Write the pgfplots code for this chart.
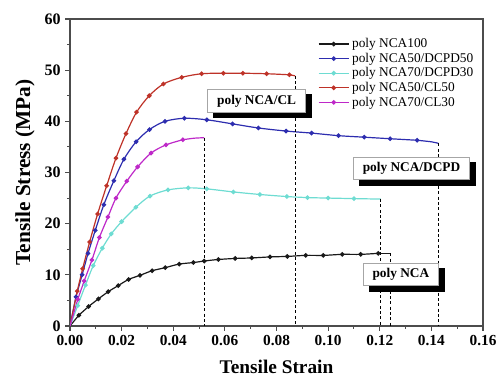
\documentclass[border=0pt]{standalone}
\usepackage{fontspec}
\setmainfont{Liberation Serif}
\usepackage{pgfplots}
\pgfplotsset{compat=1.18}
\definecolor{cBlack}{RGB}{25,25,25}
\definecolor{cBlue}{RGB}{45,45,175}
\definecolor{cCyan}{RGB}{110,220,210}
\definecolor{cRed}{RGB}{190,50,40}
\definecolor{cMag}{RGB}{190,40,200}
\tikzset{lblbase/.style={line width=0.6pt, font=\fontsize{10}{11}\selectfont\bfseries, inner xsep=7pt, inner ysep=4pt},
  lbl/.style={lblbase, draw=black!35, fill=white},
  lblsh/.style={lblbase, draw=black, fill=black}}
\begin{document}
\begin{tikzpicture}
\path[use as bounding box] (-52.5pt,-41.25pt) rectangle (322.5pt,244.5pt);
\begin{axis}[
  at={(0pt,0pt)}, anchor=south west,
  scale only axis, width=309.75pt, height=230.25pt,
  xmin=0, xmax=0.16, ymin=0, ymax=60,
  xtick={0,0.02,0.04,0.06,0.08,0.1,0.12,0.14,0.16},
  ytick={0,10,20,30,40,50,60},
  minor x tick num=1, minor y tick num=1,
  tick align=outside, tick pos=left,
  major tick length=3.5pt, minor tick length=2pt,
  axis line style={draw=black!70, line width=0.9pt},
  every tick/.style={black!70, line width=0.8pt},
  scaled x ticks=false,
  /pgf/number format/assume math mode=true,
  xticklabel style={font=\fontsize{11.5}{12}\selectfont\bfseries, /pgf/number format/fixed, /pgf/number format/fixed zerofill, /pgf/number format/precision=2},
  yticklabel style={font=\fontsize{12}{13}\selectfont\bfseries},
  xlabel={Tensile Strain}, ylabel={Tensile Stress (MPa)},
  xlabel style={font=\fontsize{14.5}{16}\selectfont\bfseries, at={(axis description cs:0.5,-0.133)}, anchor=center},
  ylabel style={font=\fontsize{16}{18}\selectfont\bfseries, at={(axis description cs:-0.109,0.5)}, anchor=center},
  legend style={draw=none, fill=none, at={(axis description cs:0.59,0.955)}, anchor=north west,
    font=\fontsize{10}{11}\selectfont, row sep=-1.5pt, nodes={inner sep=2pt}},
  legend cell align=left,
  legend image code/.code={\draw[mark repeat=2,mark phase=2,#1] plot coordinates {(0cm,0cm)(0.4cm,0cm)(0.8cm,0cm)};},
  every axis plot/.append style={line width=0.9pt, mark=*, mark size=1.25pt, mark options={solid}},
]
% poly NCA100
\addplot[cBlack, smooth] coordinates {
(0.0034,2.1)(0.0072,3.8)(0.011,5.3)(0.0148,6.7)(0.0187,7.9)(0.0227,9.1)(0.0271,9.9)(0.0318,10.8)(0.0369,11.4)(0.0423,12.1)(0.0478,12.4)(0.052,12.7)(0.0575,13.0)(0.064,13.2)(0.0704,13.3)(0.0775,13.5)(0.0842,13.6)(0.0913,13.8)(0.0981,13.8)(0.1055,14.0)(0.1126,14.0)(0.1194,14.2)};
\addlegendentry{poly NCA100}
% poly NCA50/DCPD50
\addplot[cBlue, smooth] coordinates {
(0.0023,5.7)(0.0047,10.0)(0.0070,14.2)(0.0098,18.7)(0.0131,23.7)(0.0170,28.4)(0.0209,32.6)(0.0256,36.0)(0.0308,38.4)(0.0368,40.0)(0.0443,40.6)(0.0530,40.3)(0.0630,39.5)(0.0730,38.7)(0.0837,38.1)(0.0936,37.7)(0.1040,37.2)(0.1140,36.9)(0.1240,36.6)(0.1345,36.3)};
\addlegendentry{poly NCA50/DCPD50}
% poly NCA70/DCPD30
\addplot[cCyan, smooth] coordinates {
(0.003,4.0)(0.006,8.0)(0.009,11.8)(0.0125,15.2)(0.016,18.0)(0.020,20.4)(0.0255,23.2)(0.031,25.4)(0.038,26.6)(0.0458,27.0)(0.053,26.8)(0.0633,26.2)(0.0736,25.7)(0.084,25.3)(0.092,25.1)(0.100,25.0)(0.110,24.9)};
\addlegendentry{poly NCA70/DCPD30}
% poly NCA50/CL50
\addplot[cRed, smooth] coordinates {
(0.0028,6.8)(0.0049,11.2)(0.0076,16.4)(0.0107,21.9)(0.0142,27.4)(0.0178,32.8)(0.0217,37.6)(0.0258,41.8)(0.0307,45.0)(0.0362,47.3)(0.0433,48.6)(0.0510,49.3)(0.0594,49.4)(0.0670,49.4)(0.0762,49.3)(0.0850,49.1)};
\addlegendentry{poly NCA50/CL50}
% poly NCA70/CL30
\addplot[cMag, smooth] coordinates {
(0.003,5.2)(0.0055,8.8)(0.0085,12.9)(0.0114,17.3)(0.0147,21.3)(0.0178,25.0)(0.0220,28.3)(0.0262,31.1)(0.0314,33.8)(0.0372,35.4)(0.0437,36.4)};
\addlegendentry{poly NCA70/CL30}
% start and end segments
\addplot[forget plot, cBlack, no markers] coordinates {(0,0)(0.0034,2.1)};
\addplot[forget plot, cBlack, no markers] coordinates {(0.1194,14.2)(0.1243,14.2)};
\addplot[forget plot, cBlue, no markers] coordinates {(0,0)(0.0023,5.7)};
\addplot[forget plot, cBlue, no markers, smooth] coordinates {(0.1345,36.3)(0.140,36.0)(0.1427,35.7)};
\addplot[forget plot, cCyan, no markers] coordinates {(0,0)(0.003,4.0)};
\addplot[forget plot, cCyan, no markers] coordinates {(0.110,24.9)(0.1204,24.8)};
\addplot[forget plot, cRed, no markers] coordinates {(0,0)(0.0028,6.8)};
\addplot[forget plot, cRed, no markers] coordinates {(0.0850,49.1)(0.0872,48.9)};
\addplot[forget plot, cMag, no markers] coordinates {(0,0)(0.003,5.2)};
\addplot[forget plot, cMag, no markers, smooth] coordinates {(0.0437,36.4)(0.048,36.7)(0.0520,36.8)};
% dashed drop lines
\addplot[forget plot, black, no markers, line width=0.7pt, dash pattern=on 2.2pt off 1.8pt] coordinates {(0.0520,36.8)(0.0520,0)};
\addplot[forget plot, black, no markers, line width=0.7pt, dash pattern=on 2.2pt off 1.8pt] coordinates {(0.0872,48.9)(0.0872,0)};
\addplot[forget plot, black, no markers, line width=0.7pt, dash pattern=on 2.2pt off 1.8pt] coordinates {(0.1204,24.8)(0.1204,0)};
\addplot[forget plot, black, no markers, line width=0.7pt, dash pattern=on 2.2pt off 1.8pt] coordinates {(0.1243,14.2)(0.1243,0)};
\addplot[forget plot, black, no markers, line width=0.7pt, dash pattern=on 2.2pt off 1.8pt] coordinates {(0.1427,35.7)(0.1427,0)};
\coordinate (pCL) at (axis cs:0.0723,44.0);
\coordinate (pDC) at (axis cs:0.1323,30.8);
\coordinate (pNC) at (axis cs:0.1282,10.1);
\end{axis}
% annotation boxes with drop shadow
\node[lblsh] at ([shift={(4.5pt,-4pt)}]pCL) {\phantom{poly NCA/CL}};
\node[lbl] at (pCL) {poly NCA/CL};
\node[lblsh] at ([shift={(4.5pt,-4pt)}]pDC) {\phantom{poly NCA/DCPD}};
\node[lbl] at (pDC) {poly NCA/DCPD};
\node[lblsh] at ([shift={(4.5pt,-4pt)}]pNC) {\phantom{poly NCA}};
\node[lbl] at (pNC) {poly NCA};
\end{tikzpicture}
\end{document}
